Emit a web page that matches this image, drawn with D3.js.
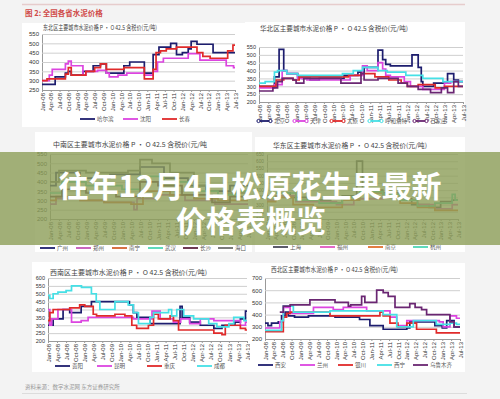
<!DOCTYPE html>
<html>
<head>
<meta charset="utf-8">
<script src="https://cdn.jsdelivr.net/npm/d3@7"></script>
<style>
html,body{margin:0;padding:0;background:#f3f3f3;}
svg{display:block;font-family:"Liberation Sans",Arial,sans-serif;}
</style>
</head>
<body>
<svg id="chart" width="500" height="399"></svg>
<script>
// quarter tick labels, month index 0 = Jan-08 ... 66 = Jul-13
var xLabels = ["Jan-08","Apr-08","Jul-08","Oct-08","Jan-09","Apr-09","Jul-09","Oct-09",
  "Jan-10","Apr-10","Jul-10","Oct-10","Jan-11","Apr-11","Jul-11","Oct-11",
  "Jan-12","Apr-12","Jul-12","Oct-12","Jan-13","Apr-13","Jul-13"];

// step series: [month, price] change points
// 东北
var dbCities = ["哈尔滨","沈阳","长春"];
var dbHarbin = [[0,280],[4.5,320],[8,340],[9,350],[10,330],[14,350],[17.5,380],[20,390],[22,340],[28,380],[30,400],[35,340],[38,440],[40,480],[44,500],[46,440],[48,450],[50,470],[51,510],[53,495],[58.5,450]];
var dbShenyang = [[0,300],[2.5,330],[3.5,360],[8,390],[9,405],[10,380],[14,330],[15,350],[19,355],[22,340],[23,320],[26,330],[29,340],[35,330],[38,350],[39.5,400],[41.5,420],[50,445],[54,410],[63,380],[65.5,370]];
var dbChangchun = [[0,300],[1.7,310],[8,335],[9,370],[10,330],[15,350],[18,370],[20,390],[22,360],[28,370],[35,310],[38,360],[39,450],[40.5,460],[42.5,470],[46,480],[53,450],[55,430],[57.5,420],[63.5,460],[65.3,490]];

// 华北
var hbCities = ["北京","天津","太原","呼和浩特","石家庄"];
var hbBeijing = [[0,300],[5,360],[6.5,535],[8,400],[9,380],[12.5,360],[14,350],[16.5,340],[19.5,350],[27.5,370],[32,390],[34,420],[38.5,530],[40,470],[41,440],[42.5,430],[49.5,500],[51.5,420],[52.5,330],[53,300],[56.5,320],[61,380],[63,340],[64.5,330]];
var hbTianjin = [[0,290],[5,310],[7.5,400],[9,380],[12.5,350],[15.5,340],[29.5,370],[33.5,430],[35,400],[38.5,450],[40,410],[41,370],[42.5,360],[47,330],[49,300],[53,280],[60,320],[62,330]];
var hbTaiyuan = [[0,300],[5.5,340],[8,350],[11,340],[13,360],[29,370],[33,380],[37.5,360],[42,340],[46,320],[48,300],[51.5,310],[57,290],[60,300]];
var hbHohhot = [[0,320],[2,330],[5,390],[6,400],[9,380],[12.5,370],[27,380],[30.5,400],[33.5,420],[38.5,400],[41.5,390],[47.5,370],[53,350],[59.5,330]];
var hbShijiazhuang = [[0,270],[4.5,290],[6,330],[7.5,350],[11,340],[12,320],[14.5,350],[26.5,320],[33,380],[34,340],[38.5,350],[45,320],[48,300],[51.5,280],[55.5,260],[59,290],[61,260],[63,330],[64.5,300]];

// 中南
var znCities = ["广州","郑州","南宁","武汉","长沙","海口"];
var znGuangzhou = [[0,380],[2,450],[10,420],[20,440],[30,480],[38,420],[46,380],[52,350],[60,380]];
var znZhengzhou = [[0,280],[2,310],[10,300],[18,290],[28,250],[29,310],[36,330],[45,300],[55,280]];
var znNanning = [[0,300],[2,320],[10,300],[18,290],[27,280],[31,350],[40,330],[48,310],[56,300]];
var znWuhan = [[0,340],[4,400],[12,380],[24,360],[30,430],[38,400],[46,350],[56,330],[62,350]];
var znChangsha = [[0,320],[4,360],[12,340],[22,320],[30,400],[36,380],[44,330],[54,290],[60,320]];
var znHaikou = [[0,400],[3,460],[12,450],[26,460],[30,520],[34,500],[40,450],[48,380],[58,340]];

// 华东
var hdCities = ["上海","福州","南京","杭州"];
var hdShanghai = [[0,360],[2,380],[8,350],[14,330],[22,310],[26,360],[31,600],[33,400],[40,380],[46,340],[50,300],[56,280],[60,320],[64,330]];
var hdFuzhou = [[0,330],[3,360],[10,320],[24,300],[30,340],[40,370],[46,330],[52,300],[58,270],[64,300]];
var hdNanjing = [[0,320],[3,350],[9,300],[16,280],[26,330],[32,380],[40,350],[46,310],[52,280],[58,260]];
var hdHangzhou = [[0,350],[2,380],[10,330],[18,310],[26,350],[32,390],[40,370],[46,330],[52,290],[58,310],[64,370],[65,330]];

// 西南
var xnCities = ["贵阳","昆明","重庆","成都"];
var xnGuiyang = [[0,300],[1.7,340],[5,400],[7.2,380],[11,420],[14.4,450],[27,430],[28.3,380],[29.5,350],[33.8,310],[41.6,310],[43.8,420],[44.5,350],[47,320],[50.5,300],[55,280],[57.7,300],[62,320],[63.8,340],[65.5,390]];
var xnKunming = [[0,400],[0.6,300],[1.2,340],[3.3,400],[7.8,320],[11,330],[13.3,350],[28.3,340],[34.5,390],[37.2,340],[41.6,320],[44,340],[47,310],[50.5,340],[55,330],[63.8,300],[65.5,320]];
var xnChongqing = [[0,330],[0.6,380],[1.7,400],[7.2,410],[10.5,430],[12.2,420],[15,370],[16.1,360],[22.2,370],[25.5,360],[27.8,300],[29.4,280],[33.3,300],[35,370],[36.6,340],[40.5,360],[41.6,330],[43.3,270],[55,250],[57.7,240],[58.8,300],[63.8,280],[65.5,270]];
var xnChengdu = [[0,490],[0.6,470],[1.7,500],[3.3,510],[6,520],[7.8,550],[11.1,540],[14.4,500],[16,450],[17.2,400],[22.2,450],[26.6,430],[28.3,380],[30,310],[33.8,350],[35,380],[40,400],[41,360],[42.7,400],[45,360],[48.3,340],[53.3,310],[56,290],[60,310],[61.6,350],[65,330]];

// 西北
var xbCities = ["西安","兰州","银川","西宁","乌鲁木齐"];
var xbXian = [[0,330],[1,310],[2.2,330],[4.5,340],[5.6,390],[6.8,420],[7.9,390],[10,380],[14.7,390],[23.7,380],[32,360],[35.5,310],[40,280],[48,290],[49,340],[57.5,310],[60,290],[61.5,350],[64,300]];
var xbLanzhou = [[0,290],[5,340],[6.2,460],[8.5,410],[16.4,460],[23.1,440],[26.5,460],[34.4,430],[42.3,380],[44.6,310],[48,350],[59,340],[60.3,300],[62.6,390],[64.8,370]];
var xbYinchuan = [[0,260],[6.2,380],[7.3,410],[8.5,420],[22,390],[38.9,420],[40,390],[42.3,330],[45,300],[48,330],[51.3,280],[58,250]];
var xbXining = [[0,270],[5.6,350],[6.2,470],[9.6,420],[22,430],[40,400],[44.6,300],[50.2,350],[58,320],[62.6,330],[64.8,320]];
var xbUrumqi = [[5,420],[6.2,470],[8.5,480],[15.2,520],[23.7,500],[28.2,470],[29,480],[32.7,550],[33.8,500],[37.8,600],[40,580],[41.7,550],[44,460],[49,490],[50.8,460],[53,440],[54.7,400],[62.6,340],[64,300]];

var navy="#1d1d6e", magenta="#dc45e0", red="#e02a2a", cyan="#45e0e6", purple="#6a2672";

var panels = [
  {title:"东北区主要城市水泥价格 P • O 42.5 含税价(元/吨)", tx:43, ty:28, tw:114,
   box:[22,23,223,104], plot:[42,235,34,90], yTicks:d3.range(250,551,50), yFont:6,
   cities:dbCities, series:[dbHarbin,dbShenyang,dbChangchun], colors:[navy,magenta,red],
   legY:119, legX:[80,123,162]},
  {title:"华北区主要城市水泥价格 P • O 42.5 含税价(元/吨)", tx:260, ty:29, tw:148,
   box:[245,22,220,105], plot:[259,463,47,102], yTicks:d3.range(200,551,50), yFont:5.5,
   cities:hbCities, series:[hbBeijing,hbTianjin,hbTaiyuan,hbHohhot,hbShijiazhuang], colors:[navy,magenta,red,cyan,purple],
   legY:121, legX:[257,293,330,368,413], dots:true},
  {title:"中南区主要城市水泥价格 P • O 42.5 含税价(元/吨", tx:53, ty:145, tw:154,
   box:[35,132,217,120], plot:[50,248,154,219], yTicks:d3.range(200,551,50), yFont:6,
   cities:znCities, series:[znGuangzhou,znZhengzhou,znNanning,znWuhan,znChangsha,znHaikou],
   colors:[navy,"#c455b8","#d4622e","#4fd6b4","#5e2440","#6e6e6e"],
   legY:248, legX:[40,76,112,148,183,218]},
  {title:"华东区主要城市水泥价格 P • O 42.5 含税价(元/吨)", tx:273, ty:146, tw:154,
   box:[255,137,210,115], plot:[267,458,154,219], yTicks:d3.range(200,651,50), yFont:4.8,
   cities:hdCities, series:[hdShanghai,hdFuzhou,hdNanjing,hdHangzhou],
   colors:["#4a4a5a","#e058c0","#e0702e","#4fd6b4"],
   legY:247, legX:[273,320,368,413]},
  {title:"西南区主要城市水泥价格 P • O 42.5 含税价(元/吨)", tx:50, ty:273, tw:157,
   box:[32,262,218,110], plot:[48,247,278,341], yTicks:d3.range(200,601,50), yFont:5.5,
   cities:xnCities, series:[xnGuiyang,xnKunming,xnChongqing,xnChengdu], colors:[navy,magenta,red,cyan],
   legY:366, legX:[55,97,147,197]},
  {title:"西北区主要城市水泥价格 P • O 42.5 含税价(元/吨)", tx:271, ty:270, tw:127,
   box:[250,263,215,109], plot:[265,460,278,339], yTicks:d3.range(200,701,100), yFont:6,
   cities:xbCities, series:[xbXian,xbLanzhou,xbYinchuan,xbXining,xbUrumqi], colors:[navy,magenta,red,cyan,purple],
   legY:365, legX:[258,300,338,377,413]}
];

var svg = d3.select("#chart");
svg.append("rect").attr("width",500).attr("height",399).attr("fill","#f3f3f3");

// top rule + figure title
svg.append("line").attr("x1",22).attr("x2",465).attr("y1",4.5).attr("y2",4.5)
  .attr("stroke","#e6cccc").attr("stroke-width",1.5);
svg.append("text").attr("x",25).attr("y",16).attr("font-size",7.5).attr("font-weight",700)
  .attr("font-family","'Noto Sans CJK SC',sans-serif").attr("fill","#d04a48").text("图 2:  全国各省水泥价格");

function drawPanel(p){
  var g = svg.append("g");
  g.append("rect").attr("x",p.box[0]).attr("y",p.box[1]).attr("width",p.box[2]).attr("height",p.box[3]).attr("fill","#fff");
  g.append("text").attr("x",p.tx).attr("y",p.ty).attr("dy","0.35em")
    .attr("font-size",6.5).attr("fill","#444").attr("font-family","'Noto Sans CJK SC',sans-serif")
    .attr("textLength",p.tw).attr("lengthAdjust","spacingAndGlyphs").text(p.title);

  var x = d3.scaleLinear().domain([0,66]).range([p.plot[0],p.plot[1]]);
  var y = d3.scaleLinear().domain([p.yTicks[0],p.yTicks[p.yTicks.length-1]]).range([p.plot[3],p.plot[2]]);

  var ya = g.append("g").attr("transform","translate("+p.plot[0]+",0)")
    .call(d3.axisLeft(y).tickValues(p.yTicks).tickSize(-(p.plot[1]-p.plot[0])).tickPadding(3));
  ya.select(".domain").attr("stroke","#9a9a9a");
  ya.selectAll(".tick line").attr("stroke","#cfcfcf");
  ya.selectAll("text").attr("font-size",p.yFont).attr("fill","#333");

  var xa = g.append("g").attr("transform","translate(0,"+p.plot[3]+")")
    .call(d3.axisBottom(x).tickValues(d3.range(0,67,3)).tickFormat(function(d,i){return xLabels[i];}).tickSize(2));
  xa.select(".domain").attr("stroke","#9a9a9a");
  xa.selectAll(".tick line").attr("stroke","#9a9a9a");
  xa.selectAll("text").attr("font-size",6).attr("fill","#333")
    .attr("transform","rotate(-90)").attr("text-anchor","end")
    .attr("x",-3).attr("y",0).attr("dy","0.35em");

  var line = d3.line().x(function(d){return x(d[0]);}).y(function(d){return y(d[1]);}).curve(d3.curveStepAfter);
  p.series.forEach(function(s,i){
    var pts = s.concat([[66,s[s.length-1][1]]]);
    g.append("path").attr("d",line(pts)).attr("fill","none")
      .attr("stroke",p.colors[i]).attr("stroke-width",1.7);
  });

  p.cities.forEach(function(c,i){
    var lx = p.legX[i];
    g.append("line").attr("x1",lx).attr("x2",lx+15).attr("y1",p.legY).attr("y2",p.legY)
      .attr("stroke",p.colors[i]).attr("stroke-width",1.8);
    if(p.dots){
      [lx+1.5,lx+13.5].forEach(function(cx){
        g.append("circle").attr("cx",cx).attr("cy",p.legY).attr("r",1.6)
          .attr("fill","#fff").attr("stroke",p.colors[i]).attr("stroke-width",1);
      });
    }
    g.append("text").attr("x",lx+17).attr("y",p.legY).attr("dy","0.35em")
      .attr("font-size",5.5).attr("fill","#555").attr("font-family","'Noto Sans CJK SC',sans-serif").text(c);
  });
}
panels.forEach(drawPanel);

// source note + bottom rule
svg.append("text").attr("x",25).attr("y",387).attr("dy","0.35em").attr("font-size",5.5)
  .attr("fill","#999").attr("font-family","'Noto Sans CJK SC',sans-serif").text("资料来源：数字水泥网  东方证券研究所");
svg.append("line").attr("x1",22).attr("x2",467).attr("y1",393.5).attr("y2",393.5).attr("stroke","#dcdcdc");

// banner overlay
svg.append("rect").attr("x",0).attr("y",152).attr("width",500).attr("height",93)
  .attr("fill","#8c9d58").attr("opacity",0.8);
var bt = svg.append("g").attr("font-family","'Noto Sans CJK SC',sans-serif").attr("font-weight",700)
  .attr("font-size",30).attr("fill","#fff").attr("text-anchor","middle");
bt.append("text").attr("x",250).attr("y",197).text("往年12月4日松原花生果最新");
bt.append("text").attr("x",251).attr("y",232).text("价格表概览");
</script>
</body>
</html>
